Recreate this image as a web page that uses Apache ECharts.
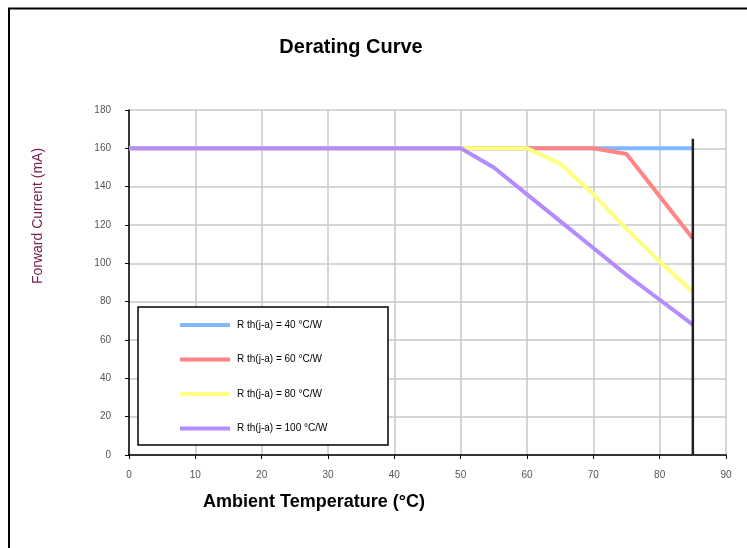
<!DOCTYPE html>
<html>
<head>
<meta charset="utf-8">
<script src="https://cdn.jsdelivr.net/npm/echarts@6/dist/echarts.min.js"></script>
<style>
html,body{margin:0;padding:0;background:#fff;}
#c{width:747px;height:548px;}
</style>
</head>
<body>
<div id="c"></div>
<script>
// Data
const seriesNames = ['R th(j-a) = 40 °C/W', 'R th(j-a) = 60 °C/W', 'R th(j-a) = 80 °C/W', 'R th(j-a) = 100 °C/W'];
const rth40 = [[0,160],[85,160]];
const rth60 = [[0,160],[70,160],[75,157],[80,135],[85,113]];
const rth80 = [[0,160],[60,160],[65,152],[70,136],[75,118],[80,101],[85,85]];
const rth100 = [[0,160],[50,160],[55,150],[60,136],[65,122],[70,108],[75,94],[80,81],[85,68]];
const limitLine = [[85,0],[85,165]];
const xTicks = [0,10,20,30,40,50,60,70,80,90];
const yTicks = [0,20,40,60,80,100,120,140,160,180];

const colors = ['#80b8ff','#ff8585','#ffff80','#b48cff'];
const dataSets = [rth40, rth60, rth80, rth100];
const FONT = 'Liberation Sans, Arial, sans-serif';

const chart = echarts.init(document.getElementById('c'), null, {renderer:'canvas'});
const lineSeries = dataSets.map((d,i)=>({
  name: seriesNames[i],
  type: 'line',
  data: d,
  showSymbol: false,
  symbol: 'none',
  lineStyle: {color: colors[i], width: 4},
  itemStyle: {color: colors[i]},
  z: 2 + i,
  animation: false
}));
lineSeries.push({
  name: 'limit',
  type: 'line',
  data: limitLine,
  symbol: 'none',
  lineStyle: {color: '#222', width: 2.5},
  z: 10,
  animation: false
});

chart.setOption({
  animation: false,
  backgroundColor: '#fff',
  title: {
    text: 'Derating Curve',
    left: 346, top: 32,
    textAlign: 'center',
    textStyle: {fontFamily: FONT, fontSize: 20, fontWeight: 'bold', color: '#000'}
  },
  grid: {left: 129, right: 21, top: 110, bottom: 93, containLabel: false},
  xAxis: {
    type: 'value', min: xTicks[0], max: xTicks[xTicks.length-1], interval: 10,
    axisLine: {show: true, lineStyle: {color: '#000', width: 1.5}},
    axisTick: {show: true, length: 4, lineStyle: {color: '#000'}},
    axisLabel: {color: '#555', fontSize: 10, margin: 15, fontFamily: FONT},
    splitLine: {show: true, lineStyle: {color: '#c8c8c8', width: 1.5}}
  },
  yAxis: {
    type: 'value', min: yTicks[0], max: yTicks[yTicks.length-1], interval: 20,
    axisLine: {show: true, lineStyle: {color: '#000', width: 1.5}},
    axisTick: {show: true, length: 4, lineStyle: {color: '#000'}},
    axisLabel: {color: '#555', fontSize: 10, margin: 18, fontFamily: FONT},
    splitLine: {show: true, lineStyle: {color: '#c8c8c8', width: 1.5}}
  },
  legend: {
    data: seriesNames,
    orient: 'vertical',
    left: 175, top: 315,
    itemWidth: 50, itemHeight: 4,
    itemGap: 24.5,
    icon: 'rect',
    z: 100,
    textStyle: {fontSize: 10, color: '#000', fontFamily: FONT, padding: [0,0,0,2]}
  },
  graphic: [
    {type: 'rect', shape: {x: 9, y: 8.5, width: 760, height: 560}, style: {fill: 'none', stroke: '#000', lineWidth: 2}, silent: true, z: 0},
    {type: 'rect', shape: {x: 138, y: 307, width: 250, height: 138}, style: {fill: '#fff', stroke: '#000', lineWidth: 1.5}, silent: true, z: 90},
    {type: 'text', left: 203, top: 493, style: {text: 'Ambient Temperature (°C)', fontSize: 18, fontWeight: 'bold', fontFamily: FONT, fill: '#000'}, z: 60},
    {type: 'text', x: 38, y: 216, rotation: Math.PI/2, style: {text: 'Forward Current (mA)', fontSize: 14, fontFamily: FONT, fill: '#7a2050', align: 'center', verticalAlign: 'middle'}, z: 60}
  ],
  series: lineSeries
});
</script>
</body>
</html>
